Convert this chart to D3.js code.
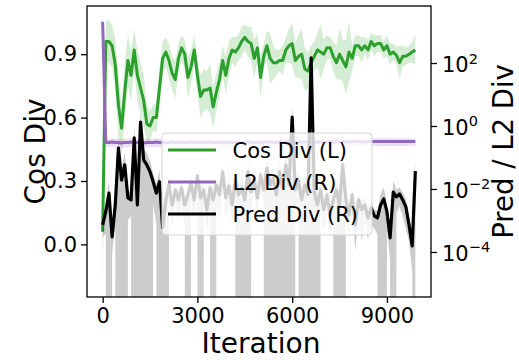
<!DOCTYPE html>
<html>
<head>
<meta charset="utf-8">
<script src="https://cdn.jsdelivr.net/npm/d3@7"></script>
<style>
  body { margin: 0; background: #fff; }
  text { font-family: "DejaVu Sans", sans-serif; fill: #000; }
</style>
</head>
<body>
<svg id="chart" width="519" height="360"></svg>
<script>
// data, one point every 100 iterations (0 .. 9900)
const iterStep = 100;

const cosDiv = [0.06, 0.96, 0.96, 0.94, 0.85, 0.66, 0.55, 0.72, 0.87, 0.80,
  0.92, 0.80, 0.74, 0.68, 0.57, 0.56, 0.60, 0.60, 0.74, 0.88,
  0.91, 0.87, 0.81, 0.78, 0.88, 0.93, 0.90, 0.79, 0.84, 0.92,
  0.80, 0.70, 0.73, 0.73, 0.74, 0.65, 0.72, 0.78, 0.87, 0.80,
  0.88, 0.92, 0.91, 0.93, 0.96, 0.98, 0.96, 0.95, 0.88, 0.93,
  0.79, 0.89, 0.94, 0.88, 0.86, 0.86, 0.87, 0.87, 0.92, 0.94,
  0.95, 0.87, 0.89, 0.90, 0.83, 0.82, 0.86, 0.89, 0.92, 0.91,
  0.90, 0.93, 0.93, 0.89, 0.86, 0.90, 0.87, 0.84, 0.91, 0.88,
  0.94, 0.94, 0.92, 0.94, 0.92, 0.96, 0.94, 0.95, 0.95, 0.92,
  0.94, 0.90, 0.91, 0.895, 0.86, 0.89, 0.89, 0.90, 0.91, 0.92];

const cosStd = [0.24, 0.10, 0.10, 0.10, 0.12, 0.14, 0.12, 0.14, 0.12, 0.12,
  0.10, 0.12, 0.12, 0.12, 0.09, 0.07, 0.06, 0.07, 0.10, 0.08,
  0.07, 0.08, 0.08, 0.09, 0.07, 0.06, 0.07, 0.10, 0.08, 0.07,
  0.08, 0.10, 0.10, 0.09, 0.12, 0.10, 0.09, 0.08, 0.07, 0.09,
  0.08, 0.06, 0.07, 0.06, 0.07, 0.06, 0.07, 0.08, 0.09, 0.07,
  0.10, 0.06, 0.07, 0.12, 0.08, 0.06, 0.05, 0.07, 0.06, 0.08,
  0.10, 0.08, 0.10, 0.12, 0.10, 0.09, 0.08, 0.07, 0.08, 0.13,
  0.07, 0.06, 0.05, 0.07, 0.08, 0.12, 0.10, 0.13, 0.14, 0.06,
  0.05, 0.05, 0.06, 0.04, 0.05, 0.04, 0.05, 0.04, 0.04, 0.04,
  0.05, 0.05, 0.04, 0.04, 0.08, 0.05, 0.04, 0.04, 0.05, 0.07];

const l2Div = [2040, 0.30, 0.30, 0.31, 0.30, 0.30, 0.29, 0.30, 0.30, 0.31,
  0.30, 0.30, 0.30, 0.29, 0.30, 0.30, 0.30, 0.31, 0.30, 0.30,
  0.30, 0.30, 0.31, 0.30, 0.30, 0.30, 0.30, 0.30, 0.31, 0.30,
  0.30, 0.30, 0.30, 0.30, 0.31, 0.30, 0.30, 0.30, 0.30, 0.30,
  0.31, 0.30, 0.30, 0.30, 0.30, 0.30, 0.31, 0.30, 0.30, 0.30,
  0.30, 0.30, 0.31, 0.31, 0.30, 0.30, 0.31, 0.31, 0.31, 0.31,
  0.31, 0.31, 0.31, 0.31, 0.31, 0.31, 0.31, 0.31, 0.31, 0.31,
  0.31, 0.31, 0.32, 0.31, 0.31, 0.31, 0.32, 0.31, 0.31, 0.31,
  0.32, 0.32, 0.31, 0.31, 0.32, 0.32, 0.32, 0.32, 0.32, 0.32,
  0.32, 0.32, 0.32, 0.32, 0.32, 0.32, 0.32, 0.32, 0.32, 0.32];

const l2Std = [1500].concat(new Array(99).fill(0.09));

const predDiv = [0.00072, 0.0019, 0.0074, 0.0003, 0.0031, 0.20, 0.019, 0.058, 0.0052, 0.0045,
  0.42, 0.0031, 1.34, 0.083, 0.058, 0.035, 0.017, 0.0074, 0.017, 0.00058,
  0.0045, 0.0134, 0.0031, 0.0093, 0.0045, 0.0108, 0.0031, 0.0065, 0.0144, 0.0045,
  0.026, 0.0052, 0.0093, 0.0022, 0.0108, 0.0045, 0.0134, 0.0065, 0.035, 0.0052,
  0.0125, 0.0031, 0.019, 0.0065, 0.0108, 0.0045, 0.035, 0.008, 0.022, 0.0052,
  0.028, 0.0093, 0.046, 0.0134, 0.022, 0.0065, 0.035, 0.0108, 0.058, 0.0134,
  1.93, 0.0093, 0.019, 0.0045, 0.0134, 0.0065, 145, 0.008, 0.0031, 0.0093,
  0.0022, 0.0065, 0.0015, 0.0045, 0.0093, 0.0031, 0.058, 0.0045, 0.0015, 0.0065,
  0.00072, 0.0045, 0.0022, 0.0031, 0.0012, 0.0025, 0.0014, 0.0012, 0.0031, 0.0048,
  0.0019, 0.00028, 0.008, 0.0056, 0.0069, 0.0045, 0.0027, 0.00072, 0.000155, 0.037];

// relative spread (std / mean) of Pred Div
const predCv = [0.6, 0.8, 1.4, 0.7, 0.8, 1.3, 1.5, 1.4, 0.8, 0.7,
  1.3, 1.6, 1.15, 1.3, 1.4, 1.3, 0.8, 0.9, 1.3, 1.5,
  1.3, 0.7, 0.8, 0.6, 0.8, 0.7, 0.8, 1.3, 0.7, 0.8,
  0.6, 1.4, 0.7, 0.8, 0.7, 1.3, 0.7, 0.8, 0.6, 0.8,
  0.7, 0.8, 0.7, 1.3, 1.4, 1.3, 1.2, 0.8, 0.6, 0.8,
  0.6, 0.7, 1.3, 1.4, 1.3, 1.5, 1.3, 1.4, 1.2, 1.3,
  1.4, 0.7, 0.8, 1.4, 1.3, 1.4, 1.33, 1.3, 1.5, 0.7,
  0.8, 0.7, 0.8, 0.7, 1.3, 1.4, 1.3, 0.7, 0.8, 0.7,
  0.85, 0.7, 0.9, 0.7, 0.8, 0.7, 0.6, 0.7, 1.3, 1.4,
  0.7, 0.8, 1.3, 0.7, 0.6, 0.7, 0.8, 0.7, 0.85, 1.1];

const xTicks = [0, 3000, 6000, 9000];
const leftTicks = [0.0, 0.3, 0.6, 0.9];
const rightTicks = [1e-4, 1e-2, 1e0, 1e2];
const rightTickExp = ["\u22124", "\u22122", "0", "2"];

const legendLabels = ["Cos Div (L)", "L2 Div (R)", "Pred Div (R)"];
const colors = { cos: "#2ca02c", l2: "#9467bd", pred: "#000000" };

const rows = cosDiv.map((c, i) => ({
  it: i * iterStep,
  cos: c, cosLo: c - cosStd[i], cosHi: c + cosStd[i],
  l2: l2Div[i], l2Lo: l2Div[i] - l2Std[i], l2Hi: l2Div[i] + l2Std[i],
  pred: predDiv[i], predLo: predDiv[i] * (1 - predCv[i]), predHi: predDiv[i] * (1 + predCv[i])
}));

const svg = d3.select("#chart");
const L = 87, R = 431, T = 6, B = 297;

const x = d3.scaleLinear().domain([-495, 10395]).range([L, R]);
const yL = d3.scaleLinear().domain([-0.249, 1.128]).range([B, T]);
const yR = d3.scaleLog().domain([Math.pow(10, -5.43), Math.pow(10, 3.81)]).range([B, T]);
// log axis: nonpositive values go far below the frame (clipped)
const yLog = v => v > 0 ? yR(v) : yR(1e-300);

svg.append("defs").append("clipPath").attr("id", "plot")
  .append("rect").attr("x", L).attr("y", T).attr("width", R - L).attr("height", B - T);

const plot = svg.append("g").attr("clip-path", "url(#plot)");

// left axes: Cos Div
plot.append("path").datum(rows)
  .attr("fill", colors.cos).attr("fill-opacity", 0.2)
  .attr("d", d3.area().x(d => x(d.it)).y0(d => yL(d.cosLo)).y1(d => yL(d.cosHi)));
plot.append("path").datum(rows)
  .attr("fill", "none").attr("stroke", colors.cos).attr("stroke-width", 3)
  .attr("stroke-linejoin", "round")
  .attr("d", d3.line().x(d => x(d.it)).y(d => yL(d.cos)));

// right axes: bands first, then lines
plot.append("path").datum(rows)
  .attr("fill", colors.l2).attr("fill-opacity", 0.2)
  .attr("d", d3.area().x(d => x(d.it)).y0(d => yLog(d.l2Lo)).y1(d => yLog(d.l2Hi)));
plot.append("path").datum(rows)
  .attr("fill", "#000").attr("fill-opacity", 0.2)
  .attr("d", d3.area().x(d => x(d.it)).y0(d => yLog(d.predLo)).y1(d => yLog(d.predHi)));
plot.append("path").datum(rows)
  .attr("fill", "none").attr("stroke", colors.l2).attr("stroke-width", 3)
  .attr("stroke-linejoin", "round")
  .attr("d", d3.line().x(d => x(d.it)).y(d => yLog(d.l2)));
plot.append("path").datum(rows)
  .attr("fill", "none").attr("stroke", colors.pred).attr("stroke-width", 3.2)
  .attr("stroke-linejoin", "round")
  .attr("d", d3.line().x(d => x(d.it)).y(d => yLog(d.pred)));

// axes
const styleAxis = g => {
  g.select(".domain").remove();
  g.selectAll(".tick line").attr("stroke", "#000").attr("stroke-width", 1.3);
  g.selectAll(".tick text").attr("font-size", 21).attr("font-family", "DejaVu Sans").attr("fill", "#000");
};

svg.append("g").attr("transform", `translate(0,${B})`)
  .call(d3.axisBottom(x).tickValues(xTicks).tickFormat(d3.format("d")).tickSize(6).tickPadding(5))
  .call(styleAxis);

svg.append("g").attr("transform", `translate(${L},0)`)
  .call(d3.axisLeft(yL).tickValues(leftTicks).tickFormat(d3.format(".1f")).tickSize(6).tickPadding(4))
  .call(styleAxis);

const rAxis = svg.append("g").attr("transform", `translate(${R},0)`)
  .call(d3.axisRight(yR).tickValues(rightTicks).tickFormat("").tickSize(6))
  .call(styleAxis);
rAxis.selectAll(".tick text").remove();
rAxis.selectAll(".tick").each(function(d, i) {
  const t = d3.select(this).append("text").attr("x", 11).attr("y", 8.7).attr("font-size", 21);
  t.append("tspan").text("10");
  t.append("tspan").attr("font-size", 14.5).attr("dy", -8.7).text(rightTickExp[i]);
});

// frame
svg.append("rect").attr("x", L).attr("y", T).attr("width", R - L).attr("height", B - T)
  .attr("fill", "none").attr("stroke", "#000").attr("stroke-width", 1.3);

// axis labels
svg.append("text").attr("x", (L + R) / 2 + 2).attr("y", 353).attr("text-anchor", "middle")
  .attr("font-size", 28).text("Iteration");
svg.append("text").attr("transform", `translate(45,${(T + B) / 2}) rotate(-90)`)
  .attr("text-anchor", "middle").attr("font-size", 28).text("Cos Div");
svg.append("text").attr("transform", `translate(513,${(T + B) / 2}) rotate(-90)`)
  .attr("text-anchor", "middle").attr("font-size", 27.5).text("Pred / L2 Div");

// legend
const lg = svg.append("g");
lg.append("rect").attr("x", 162).attr("y", 133).attr("width", 210).attr("height", 102).attr("rx", 4)
  .attr("fill", "#fff").attr("fill-opacity", 0.8).attr("stroke", "#d6d6d6").attr("stroke-width", 1);
const legColors = [colors.cos, colors.l2, colors.pred];
legendLabels.forEach((lab, i) => {
  const yy = 150 + i * 32;
  lg.append("line").attr("x1", 168).attr("x2", 216).attr("y1", yy).attr("y2", yy)
    .attr("stroke", legColors[i]).attr("stroke-width", 3.2);
  lg.append("text").attr("x", 232.5).attr("y", yy + 7.7).attr("font-size", 21).text(lab);
});
</script>
</body>
</html>
